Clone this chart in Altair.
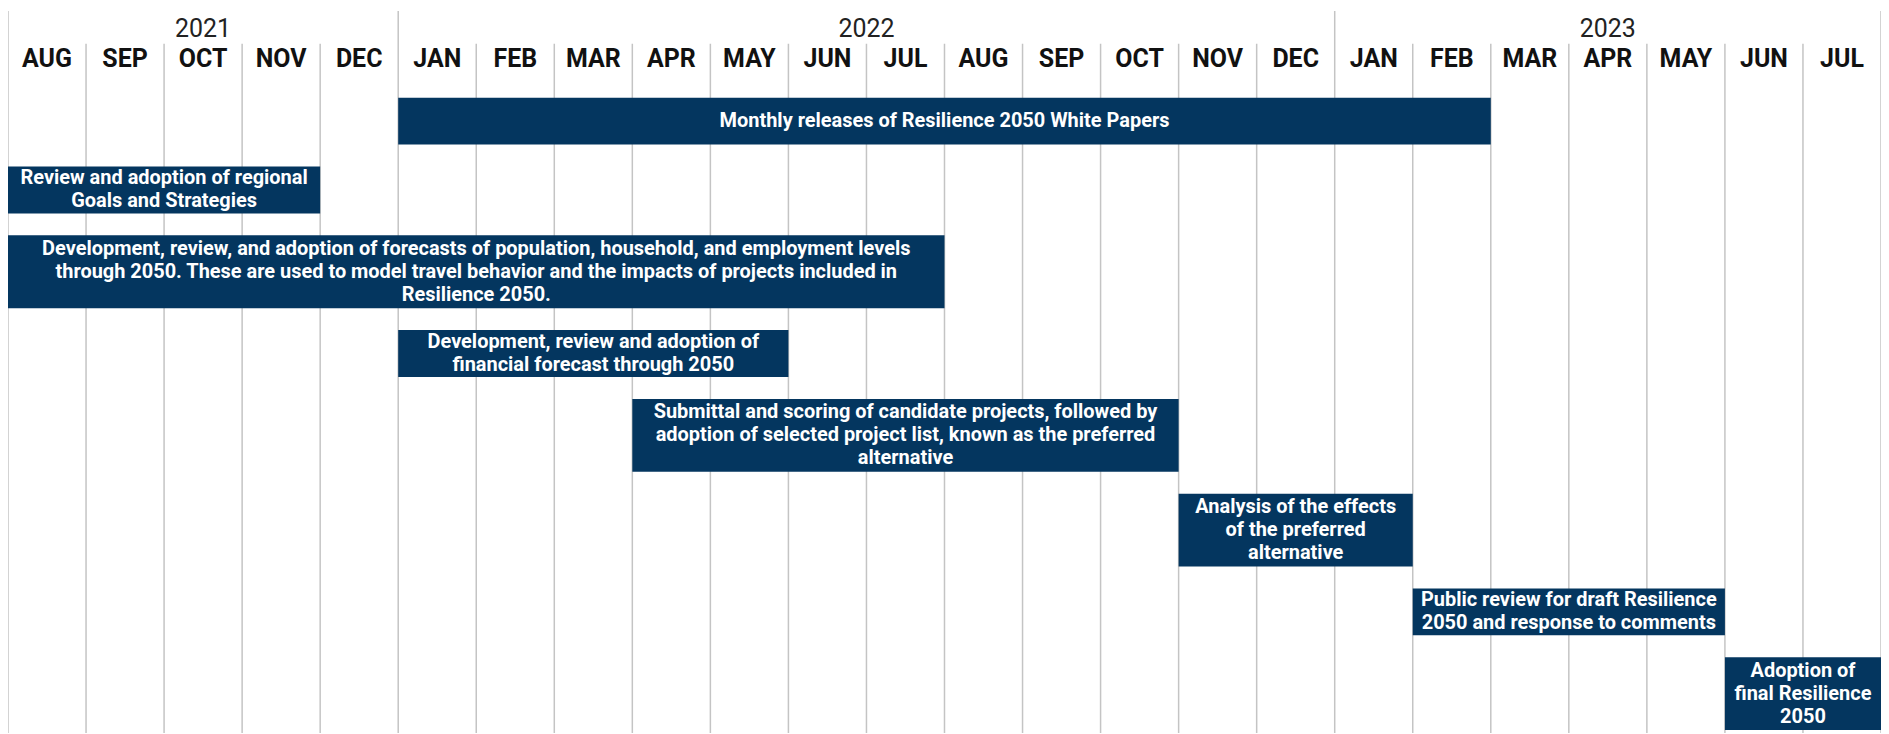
import altair as alt
import pandas as pd

# ---------------- data ----------------
months = ["AUG", "SEP", "OCT", "NOV", "DEC",
          "JAN", "FEB", "MAR", "APR", "MAY", "JUN", "JUL",
          "AUG", "SEP", "OCT", "NOV", "DEC",
          "JAN", "FEB", "MAR", "APR", "MAY", "JUN", "JUL"]
years = ["2021", "2022", "2023"]
year_start = [0, 5, 17]   # month index where each year begins
year_end = [5, 17, 24]

task_labels = [
    "Monthly releases of Resilience 2050 White Papers",
    "Review and adoption of regional\nGoals and Strategies",
    "Development, review, and adoption of forecasts of population, household, and employment levels\n"
    "through 2050. These are used to model travel behavior and the impacts of projects included in\n"
    "Resilience 2050.",
    "Development, review and adoption of\nfinancial forecast through 2050",
    "Submittal and scoring of candidate projects, followed by\n"
    "adoption of selected project list, known as the preferred\nalternative",
    "Analysis of the effects\nof the preferred\nalternative",
    "Public review for draft Resilience\n2050 and response to comments",
    "Adoption of\nfinal Resilience\n2050",
]
task_start = [5, 0, 0, 5, 8, 15, 18, 22]   # month index (0 = AUG 2021)
task_end = [19, 4, 12, 10, 15, 18, 22, 24]  # exclusive end month index

# ---------------- layout ----------------
W, H = 1878, 726
TOP0, GAP = 89, 22
LH = 23
NAVY = "#04365f"
GRID = "#c4c4c4"
FONT = "Roboto"

rows = []
y = TOP0
for lab, s, e in zip(task_labels, task_start, task_end):
    n = lab.count("\n") + 1
    h = 73 if n >= 3 else 47
    rows.append(dict(label=lab, start=s, end=e, top=y, bottom=y + h,
                     xmid=(s + e) / 2, ytext=y + h / 2 - (n - 1) * LH / 2))
    y += h + GAP
tasks_df = pd.DataFrame(rows)

months_df = pd.DataFrame({"name": months,
                          "center": [i + 0.5 for i in range(len(months))]})
years_df = pd.DataFrame({"year": years,
                         "mid": [(a + b) / 2 for a, b in zip(year_start, year_end)]})
year_bounds = sorted(set(year_start + year_end))
month_bounds = [i for i in range(1, len(months)) if i not in year_bounds]
mlines_df = pd.DataFrame({"pos": month_bounds})
ylines_df = pd.DataFrame({"pos": year_bounds})

xscale = alt.Scale(domain=[0, len(months)], nice=False, zero=False)
yscale = alt.Scale(domain=[0, H], reverse=True, nice=False, zero=False)

month_lines = alt.Chart(mlines_df).mark_rule(color=GRID, strokeWidth=1.5).encode(
    x=alt.X("pos:Q", scale=xscale, axis=None),
    y=alt.value(35), y2=alt.value(H))

year_lines = alt.Chart(ylines_df).mark_rule(color=GRID, strokeWidth=1.5).encode(
    x=alt.X("pos:Q", scale=xscale, axis=None),
    y=alt.value(2), y2=alt.value(H))

month_text = alt.Chart(months_df).mark_text(
    font=FONT, fontSize=25, fontWeight="bold", color="#111111",
    baseline="middle", align="center").encode(
    x=alt.X("center:Q", scale=xscale, axis=None),
    y=alt.value(50), text="name:N")

year_text = alt.Chart(years_df).mark_text(
    font=FONT, fontSize=25, fontWeight="normal", color="#222222",
    baseline="middle", align="center").encode(
    x=alt.X("mid:Q", scale=xscale, axis=None),
    y=alt.value(20), text="year:N")

bars = alt.Chart(tasks_df).mark_rect(color=NAVY).encode(
    x=alt.X("start:Q", scale=xscale, axis=None), x2="end:Q",
    y=alt.Y("top:Q", scale=yscale, axis=None), y2="bottom:Q")

bar_text = alt.Chart(tasks_df).mark_text(
    font=FONT, fontSize=20, fontWeight="bold", color="white",
    lineBreak="\n", lineHeight=LH, baseline="middle", align="center").encode(
    x=alt.X("xmid:Q", scale=xscale, axis=None),
    y=alt.Y("ytext:Q", scale=yscale, axis=None),
    text="label:N")

chart = alt.layer(month_lines, year_lines, bars, bar_text, month_text, year_text).properties(
    width=W, height=H, padding=0, background="white",
    autosize=alt.AutoSizeParams(type="none"),
).configure_view(stroke=None)

chart.save("out.html", embed_options={"renderer": "svg", "actions": False})
